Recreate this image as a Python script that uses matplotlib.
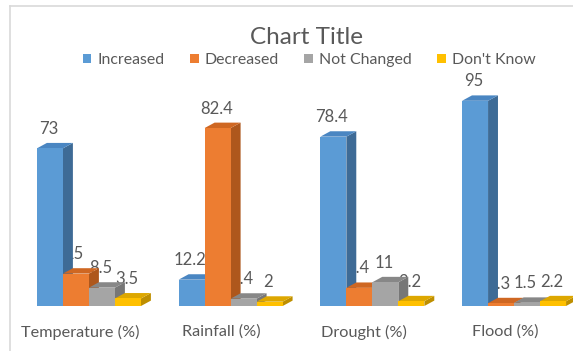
#!/usr/bin/env python3
"""Excel-style 3D clustered column chart: perceived climate change by indicator."""

import matplotlib

matplotlib.use("Agg")
import matplotlib.pyplot as plt  # noqa: E402
from matplotlib.lines import Line2D  # noqa: E402
from matplotlib.patches import Patch, Polygon  # noqa: E402

CATEGORIES = ["Temperature (%)", "Rainfall (%)", "Drought (%)", "Flood (%)"]
SERIES = ["Increased", "Decreased", "Not Changed", "Don't Know"]
INCREASED = [73, 12.2, 78.4, 95]
DECREASED = [15, 82.4, 8.4, 1.3]
NOT_CHANGED = [8.5, 3.4, 11, 1.5]
DONT_KNOW = [3.5, 2, 2.2, 2.2]
VALUE_LABELS = ["73", "15", "8.5", "3.5", "12.2", "82.4", "3.4", "2",
                "78.4", "8.4", "11", "2.2", "95", "1.3", "1.5", "2.2"]

# (front, top, side) shades for each series
COLORS = [
    ("#5B9BD5", "#4A86C2", "#3E6B96"),
    ("#ED7D31", "#CF6722", "#AE571C"),
    ("#A5A5A5", "#878787", "#777777"),
    ("#FFC000", "#DDA700", "#BE8F00"),
]
TEXT = "#595959"

W, H = 573, 351
BAR_W = 0.1835          # one bar, in category units
DEPTH_X = 0.07          # 3D depth offset, category units
DEPTH_Y = 2.5           # 3D depth offset, value units


def main() -> None:
    plt.rcParams["font.family"] = ["Lato", "DejaVu Sans"]
    fig = plt.figure(figsize=(W / 100, H / 100), dpi=100)
    # plot region in pixels: x 0..573, y 90..306 (from top)
    ax = fig.add_axes([0, 1 - 306 / H, 1, 216 / H])
    ax.set_xlim(-0.628, 3.416)
    ax.set_ylim(0, 100)
    for s in ax.spines.values():
        s.set_visible(False)
    ax.set_yticks([])

    series_vals = [INCREASED, DECREASED, NOT_CHANGED, DONT_KNOW]
    z = 3
    for i in range(len(CATEGORIES)):
        for j, vals in enumerate(series_vals):
            v = vals[i]
            front, top, side = COLORS[j]
            x0 = i + (j - 2) * BAR_W
            x1 = x0 + BAR_W
            ax.add_patch(Polygon(
                [(x1, 0), (x1 + DEPTH_X, DEPTH_Y), (x1 + DEPTH_X, v + DEPTH_Y), (x1, v)],
                closed=True, facecolor=side, edgecolor="none", zorder=z, clip_on=False))
            ax.add_patch(Polygon(
                [(x0, v), (x1, v), (x1 + DEPTH_X, v + DEPTH_Y), (x0 + DEPTH_X, v + DEPTH_Y)],
                closed=True, facecolor=top, edgecolor="none", zorder=z, clip_on=False))
            ax.bar(x0, v, width=BAR_W, align="edge", color=front,
                   linewidth=0, zorder=z + 0.5)
            z += 1
            # labels sit behind the bars, like Excel's 3D labels
            ax.annotate(VALUE_LABELS[i * 4 + j], (x0 + BAR_W / 2 - 0.01, v),
                        xytext=(0, 14), textcoords="offset points",
                        ha="center", va="center", fontsize=12, color=TEXT,
                        zorder=1)

    ax.set_xticks([i - 0.063 for i in range(len(CATEGORIES))])
    ax.set_xticklabels(CATEGORIES, fontsize=11.7, color=TEXT)
    ax.tick_params(axis="x", length=0, pad=13.5)

    fig.text(306 / W, 1 - 38 / H, "Chart Title", ha="center", va="center",
             fontsize=17.5, color=TEXT)
    handles = [Patch(facecolor=c[0], edgecolor="none") for c in COLORS]
    fig.legend(handles, SERIES, loc="center", ncol=4,
               bbox_to_anchor=(309 / W, 1 - 60 / H), frameon=False,
               fontsize=11.4, labelcolor=TEXT, handlelength=0.55,
               handleheight=0.55, handletextpad=0.38, columnspacing=1.6)

    # chart-area border (only top and left edges are in the crop)
    fig.add_artist(Line2D([10 / W, 10 / W], [0, 1 - 6 / H],
                          transform=fig.transFigure, color="#D9D9D9", lw=1.2))
    fig.add_artist(Line2D([10 / W, 1], [1 - 6 / H, 1 - 6 / H],
                          transform=fig.transFigure, color="#D9D9D9", lw=1.2))

    fig.savefig("out.png", dpi=100)


if __name__ == "__main__":
    main()
